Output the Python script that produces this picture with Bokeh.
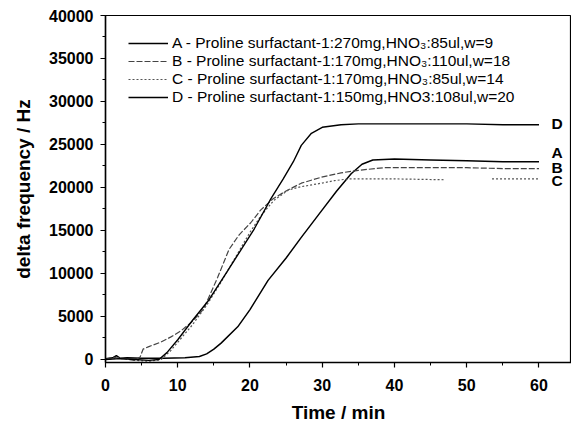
from bokeh.plotting import figure
from bokeh.models import Range1d, Legend, LegendItem, SingleIntervalTicker
from bokeh.core.properties import value
from bokeh.embed import file_html
from bokeh.resources import INLINE
import numpy as np

nan = float("nan")

# ---- data ----
A_x = [0, 1, 1.5, 2, 3, 5, 8, 11, 13, 14, 15, 16, 18.3, 20, 22.5, 25, 27.1, 30, 32, 34, 35.5, 37, 40, 45, 50, 55, 60]
A_y = [100, 200, 450, 150, 200, 150, 150, 200, 350, 650, 1200, 1900, 3800, 5800, 9200, 11800, 14200, 17400, 19600, 21600, 22700, 23200, 23300, 23200, 23100, 23000, 23000]

B_x = [0, 1, 2, 3, 4, 4.8, 5.2, 6, 7.6, 9, 10.4, 12, 13.6, 15.5, 17.1, 18.5, 20.1, 21.5, 23.2, 25, 27.1, 29.9, 32.6, 35, 38.6, 45, 50, 55, 60]
B_y = [0, 300, 100, 50, -100, 300, 1200, 1500, 2000, 2600, 3300, 4400, 5900, 9500, 12800, 14500, 15900, 17400, 18700, 19600, 20500, 21200, 21700, 22000, 22300, 22300, 22300, 22200, 22200]

C_x = [0, 2, 4, 6, 7.7, 9, 10.5, 12, 14, 16, 18, 20, 21.5, 23.3, 25.3, 27.1, 29.9, 31.7, 33.6, 40, 47, 50, 53.5, 60]
C_y = [0, 200, -100, -200, 0, 1000, 2500, 4000, 6300, 9000, 11900, 14800, 16700, 18500, 19700, 20100, 20500, 20800, 21000, 21000, 20900, nan, 21000, 21000]

D_x = [0, 2, 4, 6, 7.4, 8.5, 10, 12, 14.2, 16.9, 20.6, 22.9, 24.6, 26, 27.1, 28.5, 30, 32.6, 35, 40, 45, 50, 55, 60]
D_y = [0, 100, 0, -100, 0, 800, 2300, 4500, 6800, 10300, 15200, 18700, 21000, 23000, 24900, 26300, 27000, 27300, 27400, 27400, 27400, 27400, 27300, 27300]

series_names = [
    "A - Proline surfactant-1:270mg,HNO\u2083:85ul,w=9",
    "B - Proline surfactant-1:170mg,HNO\u2083:110ul,w=18",
    "C - Proline surfactant-1:170mg,HNO\u2083:85ul,w=14",
    "D - Proline surfactant-1:150mg,HNO3:108ul,w=20",
]
end_labels = ["D", "A", "B", "C"]
end_label_x = [62.5, 62.5, 62.5, 62.5]
end_label_y = [27400, 24100, 22300, 20800]

FONT = "Liberation Sans"

p = figure(width=571, height=427, output_backend="svg", toolbar_location=None,
           x_range=Range1d(0, 64.5), y_range=Range1d(-350, 40000),
           min_border_left=105, min_border_right=0, min_border_top=15, min_border_bottom=65)
p.xgrid.visible = False
p.ygrid.visible = False
p.outline_line_color = "black"
p.outline_line_width = 1.2
p.background_fill_color = "white"
p.border_fill_color = "white"

rA = p.line(A_x, A_y, line_color="black", line_width=1.5)
rB = p.line(B_x, B_y, line_color="#444444", line_width=1.2, line_dash="6 2")
rC = p.line(C_x, C_y, line_color="#555555", line_width=1.2, line_dash="2 2")
rD = p.line(D_x, D_y, line_color="black", line_width=1.4)

p.text(x=end_label_x, y=end_label_y, text=end_labels, text_font=value(FONT),
       text_font_style="bold", text_font_size="15.5px", text_align="center",
       text_baseline="middle", text_color="black")

legend = Legend(items=[LegendItem(label=series_names[i], renderers=[r]) for i, r in enumerate([rA, rB, rC, rD])],
                location=(23, 256), margin=0, padding=0, spacing=0,
                glyph_width=40, glyph_height=18, label_height=18, label_standoff=4,
                label_text_font=FONT, label_text_font_size="15.5px", label_text_color="black",
                border_line_color=None, background_fill_alpha=0)
p.add_layout(legend)

for ax in (p.xaxis[0], p.yaxis[0]):
    ax.axis_line_width = 1.5
    ax.axis_line_color = "black"
    ax.major_tick_line_color = "black"
    ax.minor_tick_line_color = "black"
    ax.major_tick_line_width = 1.2
    ax.minor_tick_line_width = 1.0
    ax.major_tick_out = 5
    ax.major_tick_in = 0
    ax.minor_tick_out = 3
    ax.minor_tick_in = 0
    ax.major_label_text_font = FONT
    ax.major_label_text_font_style = "bold"
    ax.major_label_text_font_size = "16px"
    ax.major_label_text_color = "black"
    ax.axis_label_text_font = FONT
    ax.axis_label_text_font_style = "bold"
    ax.axis_label_text_font_size = "19px"
    ax.axis_label_text_color = "black"

p.xaxis.ticker = SingleIntervalTicker(interval=10, num_minor_ticks=2)
p.yaxis.ticker = SingleIntervalTicker(interval=5000, num_minor_ticks=2)
p.yaxis.formatter.use_scientific = False
p.xaxis.axis_label = "Time / min"
p.yaxis.axis_label = "delta frequency / Hz"
p.xaxis.major_label_standoff = 11
p.xaxis.axis_label_standoff = 8
p.yaxis.major_label_standoff = 7
p.yaxis.axis_label_standoff = 12

open("out.html", "w").write(file_html(p, INLINE))
